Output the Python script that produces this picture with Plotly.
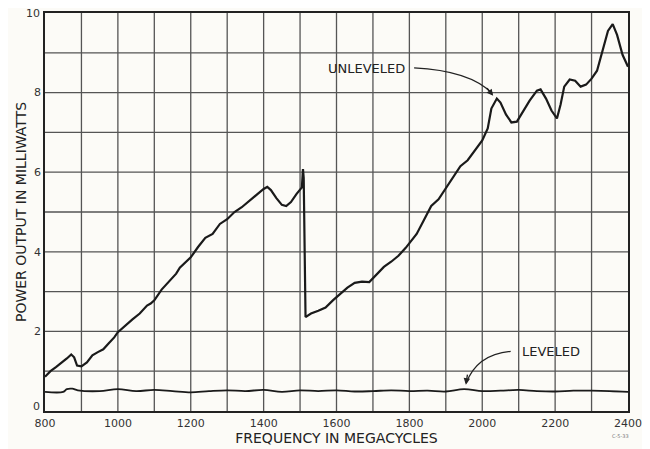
import plotly.graph_objects as go

# Unleveled output (MHz, mW)
unlev_freq = [800, 815, 830, 845, 860, 872, 880, 888, 900, 915, 930, 945, 960, 975, 990,
              1000, 1020, 1040, 1060, 1080, 1090, 1100, 1120, 1140, 1160, 1170, 1185, 1200,
              1220, 1240, 1260, 1280, 1300, 1320, 1340, 1360, 1380, 1400, 1410, 1420, 1435,
              1450, 1462, 1475, 1490, 1505, 1508, 1510, 1515, 1530, 1550, 1570, 1590, 1610,
              1630, 1650, 1670, 1690, 1710, 1730, 1750, 1770, 1790, 1800, 1820, 1840, 1860,
              1880, 1900, 1920, 1940, 1960, 1980, 2000, 2015, 2025, 2040, 2050, 2065, 2080,
              2095, 2110, 2130, 2150, 2160, 2175, 2190, 2205, 2215, 2225, 2240, 2255, 2270,
              2285, 2300, 2315, 2330, 2345, 2358, 2370, 2385, 2400]
unlev_mw = [0.86, 1.00, 1.10, 1.20, 1.32, 1.42, 1.35, 1.14, 1.12, 1.22, 1.40, 1.48, 1.55, 1.70, 1.85,
            1.98, 2.15, 2.30, 2.45, 2.65, 2.70, 2.78, 3.05, 3.25, 3.45, 3.60, 3.72, 3.86,
            4.12, 4.35, 4.45, 4.70, 4.82, 5.00, 5.12, 5.28, 5.42, 5.58, 5.63, 5.55, 5.35,
            5.18, 5.15, 5.25, 5.45, 5.62, 6.08, 5.85, 2.36, 2.45, 2.52, 2.60, 2.78, 2.95,
            3.10, 3.22, 3.25, 3.24, 3.42, 3.62, 3.75, 3.90, 4.10, 4.22, 4.45, 4.80, 5.15,
            5.32, 5.60, 5.90, 6.15, 6.30, 6.55, 6.80, 7.10, 7.60, 7.85, 7.75, 7.45, 7.25,
            7.27, 7.50, 7.80, 8.05, 8.08, 7.85, 7.55, 7.35, 7.70, 8.15, 8.33, 8.30, 8.15,
            8.20, 8.35, 8.55, 9.05, 9.55, 9.72, 9.45, 8.95, 8.65]

# Leveled output
lev_freq = [800, 850, 860, 875, 890, 950, 1000, 1050, 1100, 1150, 1200, 1250, 1300, 1350,
            1400, 1450, 1500, 1550, 1600, 1650, 1700, 1750, 1800, 1850, 1900, 1950, 2000,
            2050, 2100, 2150, 2200, 2250, 2300, 2350, 2400]
lev_mw = [0.48, 0.48, 0.55, 0.56, 0.52, 0.50, 0.55, 0.50, 0.53, 0.50, 0.47, 0.50, 0.52, 0.50,
          0.53, 0.48, 0.52, 0.50, 0.52, 0.49, 0.50, 0.52, 0.50, 0.51, 0.49, 0.55, 0.50,
          0.51, 0.53, 0.50, 0.49, 0.51, 0.51, 0.50, 0.48]

x_ticks = [800, 1000, 1200, 1400, 1600, 1800, 2000, 2200, 2400]
y_ticks = [2, 4, 6, 8]

FONT = "DejaVu Sans"
INK = "#222222"
GRID = "#555555"

fig = go.Figure()
fig.add_trace(go.Scatter(x=unlev_freq, y=unlev_mw, mode="lines",
                         line=dict(color="#1a1a1a", width=2.2), showlegend=False,
                         hoverinfo="skip"))
fig.add_trace(go.Scatter(x=lev_freq, y=lev_mw, mode="lines", line_shape="spline",
                         line=dict(color="#1a1a1a", width=1.8), showlegend=False,
                         hoverinfo="skip"))

# curved leader lines
fig.add_shape(type="path", xref="x", yref="y",
              path="M 1813,8.62 Q 1966,8.55 2027,7.98",
              line=dict(color=INK, width=1.3))
fig.add_shape(type="path", xref="x", yref="y",
              path="M 2078,1.50 Q 1985,1.42 1956,0.70",
              line=dict(color=INK, width=1.3))
# arrowheads
fig.add_annotation(x=2030, y=7.92, ax=2010, ay=8.15, xref="x", yref="y",
                   axref="x", ayref="y", text="", showarrow=True,
                   arrowhead=2, arrowsize=1, arrowwidth=1.3, arrowcolor=INK)
fig.add_annotation(x=1955, y=0.66, ax=1960, ay=0.95, xref="x", yref="y",
                   axref="x", ayref="y", text="", showarrow=True,
                   arrowhead=2, arrowsize=1, arrowwidth=1.3, arrowcolor=INK)

fig.add_annotation(x=1681, y=8.6, text="UNLEVELED", showarrow=False,
                   font=dict(family=FONT, size=13, color=INK))
fig.add_annotation(x=2190, y=1.5, text="LEVELED", showarrow=False,
                   font=dict(family=FONT, size=13, color=INK))
# end labels of the y scale (placed by hand so they are not clipped / overlapping)
fig.add_annotation(x=800, y=0, xref="x", yref="y", xanchor="right", yanchor="middle",
                   xshift=-3, yshift=5, text="0", showarrow=False,
                   font=dict(family=FONT, size=11, color="#333333"))
fig.add_annotation(x=800, y=10, xref="x", yref="y", xanchor="right", yanchor="middle",
                   xshift=-3, yshift=0, text="10", showarrow=False,
                   font=dict(family=FONT, size=11, color="#333333"))
fig.add_annotation(x=1.0, y=0, xref="paper", yref="paper", xanchor="center",
                   yanchor="top", yshift=-20, xshift=-8, text="C-5-33", showarrow=False,
                   font=dict(family=FONT, size=5, color="#777777"))

fig.update_xaxes(range=[800, 2400], tickvals=x_ticks,
                 ticktext=[str(v) for v in x_ticks],
                 showgrid=False, automargin=False,
                 showline=True, linecolor=INK, linewidth=1.5, mirror=True,
                 ticks="", zeroline=False, ticklabelstandoff=1,
                 tickfont=dict(family=FONT, size=11, color="#333333"),
                 title=dict(text="FREQUENCY IN MEGACYCLES", standoff=0,
                            font=dict(family=FONT, size=14, color=INK)))
fig.update_yaxes(range=[0, 10], tickvals=y_ticks, ticktext=[str(v) for v in y_ticks],
                 showgrid=False, automargin=False,
                 showline=True, linecolor=INK, linewidth=1.5, mirror=True,
                 ticks="", zeroline=False,
                 tickfont=dict(family=FONT, size=11, color="#333333"),
                 title=dict(text="POWER OUTPUT IN MILLIWATTS", standoff=4,
                            font=dict(family=FONT, size=14, color=INK)))

# full grid (every 100 MHz and every 1 mW)
for f in range(900, 2400, 100):
    fig.add_vline(x=f, line=dict(color=GRID, width=1.3), layer="below")
for p in range(1, 10):
    fig.add_hline(y=p, line=dict(color=GRID, width=1.3), layer="below")

fig.update_layout(width=650, height=449,
                  margin=dict(l=37, r=30, t=5, b=46, autoexpand=False),
                  paper_bgcolor="#fcfbf7", plot_bgcolor="#fcfbf7",
                  showlegend=False)

fig.write_html("out.html")
